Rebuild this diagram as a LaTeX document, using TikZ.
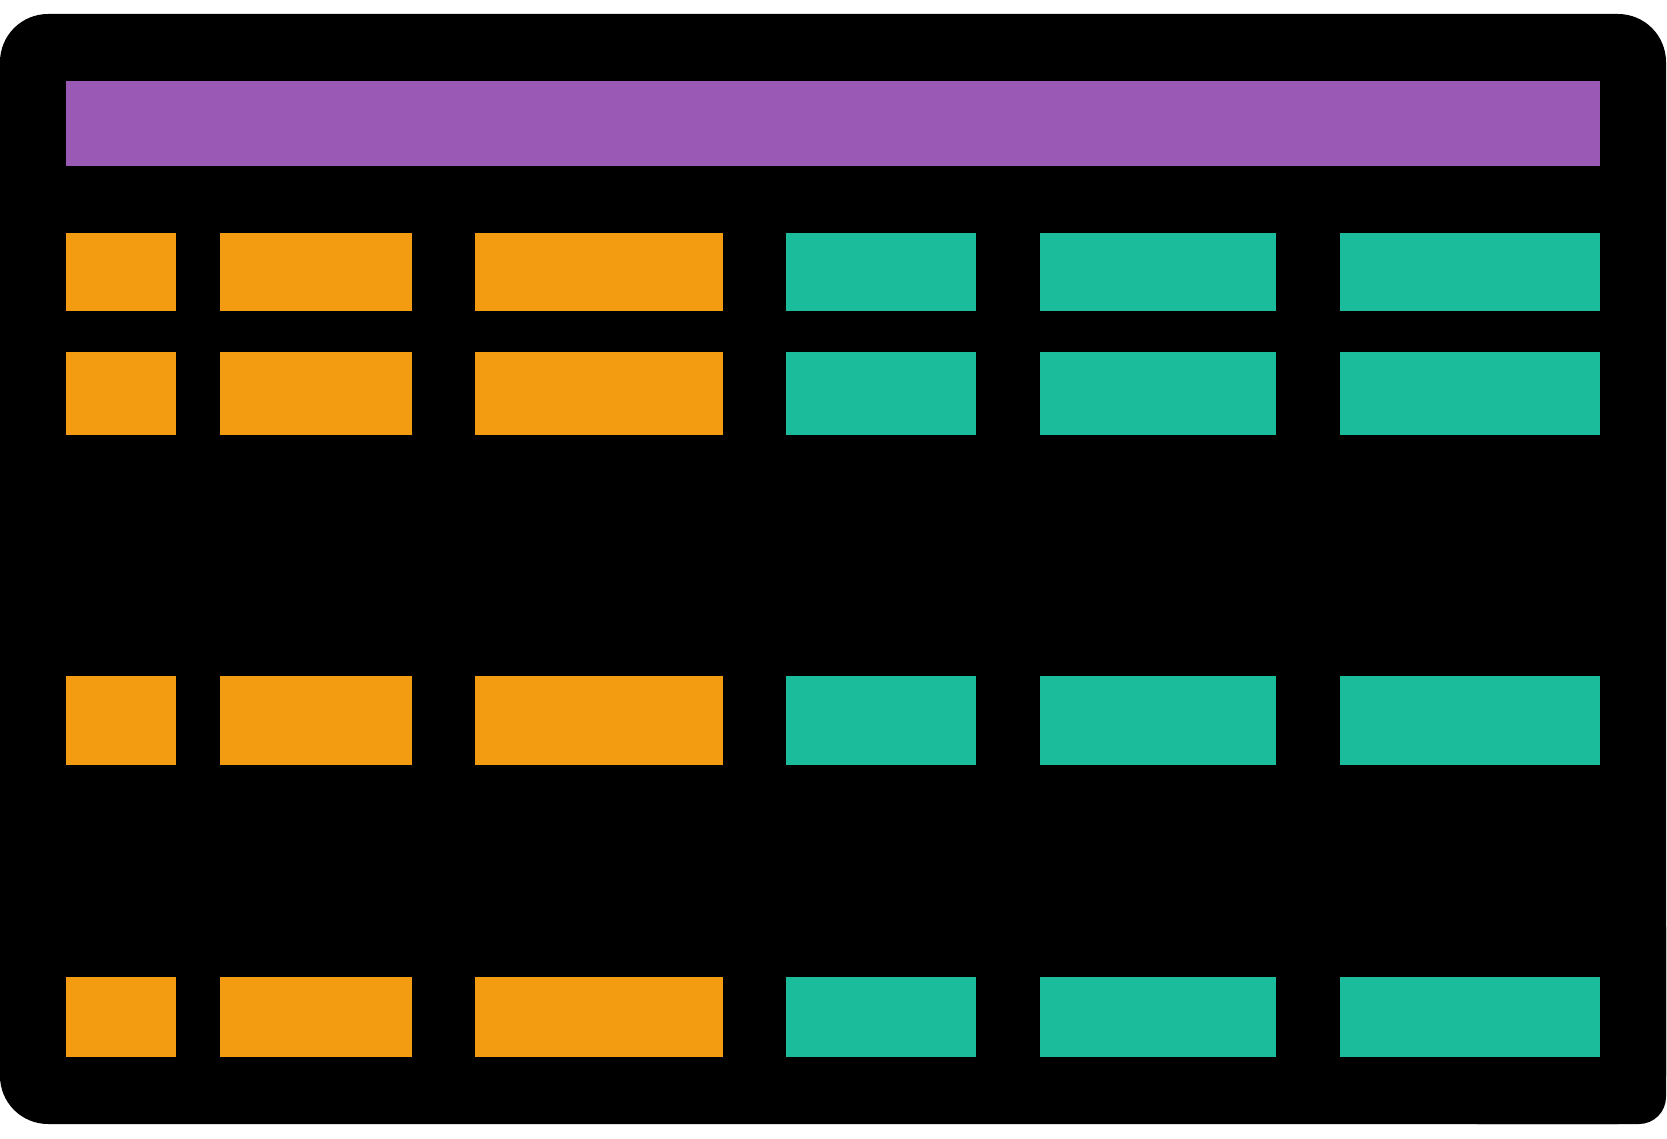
\documentclass[tikz,border=0pt]{standalone}
\definecolor{purplebar}{HTML}{9B59B6}
\definecolor{orangebar}{HTML}{F39C12}
\definecolor{tealbar}{HTML}{1ABC9C}
\tikzset{
  frame/.style={fill=black},
  obar/.style={fill=orangebar},
  tbar/.style={fill=tealbar},
  pbar/.style={fill=purplebar}
}
\begin{document}
\begin{tikzpicture}[x=0.5pt,y=-0.5pt]
\useasboundingbox (0,0) rectangle (1667,1139);
% black frame
\fill[frame,rounded corners=24pt] (0,14) rectangle (1666,1124);
\fill[frame,rounded corners=13.5pt] (1450,900) rectangle (1666,1124);
% purple header
\fill[pbar] (66,81) rectangle (1600,166);
% rows
\foreach \ya/\yb in {233/311, 352/435, 676/765, 977/1057}{
  \fill[obar] (66,\ya) rectangle (176,\yb);
  \fill[obar] (220,\ya) rectangle (412,\yb);
  \fill[obar] (475,\ya) rectangle (723,\yb);
  \fill[tbar] (786,\ya) rectangle (976,\yb);
  \fill[tbar] (1040,\ya) rectangle (1276,\yb);
  \fill[tbar] (1340,\ya) rectangle (1600,\yb);
}
\end{tikzpicture}
\end{document}
